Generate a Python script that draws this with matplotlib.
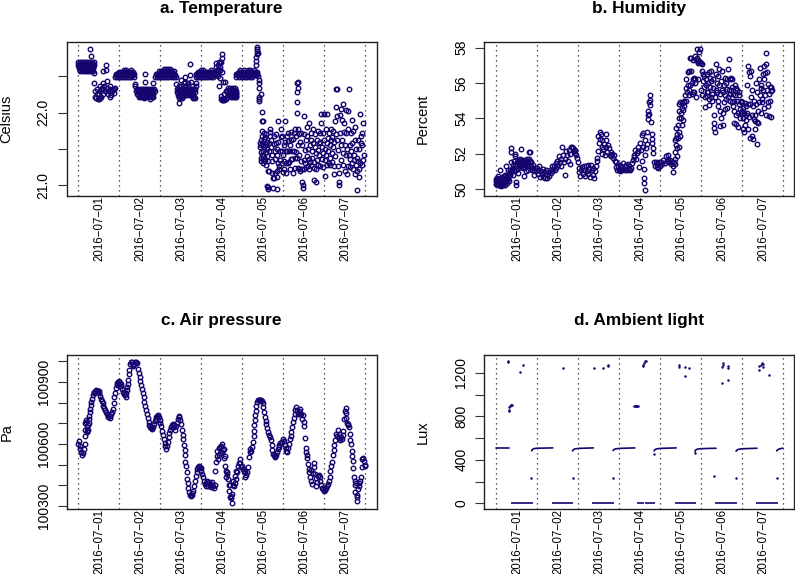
import matplotlib
matplotlib.use("Agg")
import matplotlib.pyplot as plt

plt.rcParams['font.family'] = ['Liberation Sans', 'DejaVu Sans']

W, H = 795, 574
NAVY = '#15056f'

day_labels = ['2016\u221207\u221201', '2016\u221207\u221202', '2016\u221207\u221203', '2016\u221207\u221204',
              '2016\u221207\u221205', '2016\u221207\u221206', '2016\u221207\u221207']
day_label_pos = [0.52, 1.52, 2.52, 3.52, 4.52, 5.52, 6.52]
midnights = [0, 1, 2, 3, 4, 5, 6, 7]

# ---- a. Temperature: rows of the quantised day-time plateau
temp_rows_0 = {22.69: [0.0, .05, .1, .15, .2, .25, .3, .35, .38], 22.65: [0.0, .05, .1, .15, .2, .25, .3, .35, .38],
               22.61: [.02, .07, .12, .17, .22, .27, .32, .37], 22.57: [.06, .11, .16, .21, .26, .31, .36]}
temp_rows_1 = {22.59: [1.12, 1.18, 1.30], 22.56: [1.0, 1.05, 1.1, 1.15, 1.2, 1.25, 1.3, 1.34],
               22.53: [.92, .97, 1.02, 1.07, 1.12, 1.17, 1.22, 1.27, 1.32, 1.37], 22.49: [.9, .95, 1.0, 1.05, 1.1, 1.15, 1.2, 1.25, 1.3, 1.36]}
temp_rows_1b = {22.33: [1.45, 1.5, 1.55, 1.6, 1.65, 1.7, 1.75, 1.8, 1.86], 22.29: [1.42, 1.47, 1.52, 1.57, 1.62, 1.67, 1.72, 1.77, 1.83, 1.88],
                22.25: [1.45, 1.5, 1.55, 1.6, 1.65, 1.7, 1.78, 1.84], 22.21: [1.48, 1.53, 1.6, 1.66, 1.74, 1.8, 1.83]}
temp_rows_2 = {22.60: [2.1, 2.15, 2.2, 2.25], 22.57: [1.98, 2.03, 2.08, 2.13, 2.18, 2.23, 2.28, 2.33],
               22.53: [1.9, 1.95, 2.0, 2.05, 2.1, 2.15, 2.2, 2.25, 2.3, 2.35], 22.49: [1.88, 1.93, 1.98, 2.03, 2.08, 2.13, 2.18, 2.23, 2.28, 2.34, 2.38]}
temp_rows_2b = {22.36: [2.5, 2.6, 2.68, 2.78, 2.88], 22.32: [2.42, 2.47, 2.52, 2.57, 2.62, 2.67, 2.72, 2.77, 2.82, 2.86],
                22.28: [2.42, 2.47, 2.52, 2.57, 2.62, 2.67, 2.72, 2.77, 2.84], 22.24: [2.44, 2.49, 2.54, 2.6, 2.66, 2.72, 2.8],
                22.20: [2.46, 2.5, 2.54, 2.8, 2.84]}
temp_rows_3 = {22.59: [3.0, 3.05, 3.25, 3.38], 22.56: [2.92, 2.97, 3.02, 3.07, 3.12, 3.17, 3.22, 3.27, 3.32, 3.38, 3.42],
               22.53: [2.87, 2.92, 2.97, 3.02, 3.07, 3.12, 3.17, 3.22, 3.27, 3.32, 3.38],
               22.49: [2.88, 2.93, 2.98, 3.03, 3.08, 3.13, 3.18, 3.23, 3.3]}
temp_rows_3b = {22.34: [3.66, 3.7, 3.78, 3.82], 22.30: [3.64, 3.68, 3.73, 3.78, 3.82, 3.86], 22.26: [3.66, 3.71, 3.76, 3.81, 3.85],
                22.22: [3.72, 3.78, 3.83, 3.86], 22.19: [3.48, 3.51, 3.54, 3.57, 3.6], 22.17: [3.5, 3.53, 3.56]}
temp_rows_4 = {22.59: [3.95, 4.05, 4.15, 4.2, 4.3], 22.56: [3.92, 3.97, 4.02, 4.07, 4.12, 4.17, 4.22, 4.27, 4.32, 4.36],
               22.53: [3.86, 3.91, 3.96, 4.01, 4.06, 4.11, 4.16, 4.21, 4.26, 4.31, 4.36], 22.49: [3.86, 3.92, 4.0, 4.06, 4.12, 4.18, 4.24]}
temp_rows_fill_top = {22.67: [.02, .08, .13, .18, .23, .28, .33, .37], 22.63: [.03, .08, .13, .18, .23, .28, .33, .36],
                      22.59: [.04, .09, .14, .19, .24, .29, .34], 22.55: [.98, 1.03, 1.08, 1.13, 1.23, 1.28, 2.0, 2.06, 2.11, 2.16, 2.21, 2.26, 2.31, 2.95, 3.0, 3.05, 3.1, 3.15, 3.2, 3.25, 3.3, 3.35, 3.9, 3.95, 4.0, 4.09, 4.14, 4.19, 4.24, 4.29, 4.34],
                      22.51: [.93, .98, 1.03, 1.08, 1.13, 1.18, 1.23, 1.28, 1.33, 1.92, 1.97, 2.02, 2.07, 2.12, 2.17, 2.22, 2.27, 2.32, 2.37, 2.9, 2.95, 3.0, 3.05, 3.1, 3.15, 3.2, 3.25, 3.3, 3.35, 3.88, 3.93, 3.98, 4.03, 4.08, 4.13, 4.18, 4.23, 4.28, 4.33]}
temp_rows_fill_low = {22.31: [1.46, 1.51, 1.56, 1.61, 1.66, 1.71, 1.76, 1.81, 2.44, 2.49, 2.54, 2.59, 2.64, 2.69, 2.74, 2.79, 3.67, 3.72, 3.77, 3.82],
                      22.27: [1.47, 1.52, 1.57, 1.62, 1.67, 1.72, 1.8, 2.45, 2.5, 2.55, 2.6, 2.65, 2.7, 2.75, 2.8, 3.69, 3.74, 3.79, 3.84],
                      22.23: [1.5, 1.55, 1.63, 1.69, 1.77, 2.47, 2.52, 2.57, 2.78, 3.75, 3.8, 3.85]}
temp_day0_low = [(.30, 22.87), (.31, 22.78), (.40, 22.55), (.40, 22.41), (.54, 22.37), (.60, 22.57), (.68, 22.58), (.68, 22.66),
                 (.70, 22.44), (.62, 22.41), (.79, 22.36), (.87, 22.33), (.42, 22.29), (.46, 22.32), (.58, 22.34), (.66, 22.29),
                 (.74, 22.29), (.83, 22.29), (.42, 22.22), (.48, 22.19), (.53, 22.20), (.57, 22.21), (.62, 22.25), (.77, 22.22),
                 (.87, 22.27), (.50, 22.25), (.70, 22.34), (.79, 22.32), (.54, 22.29), (.61, 22.32), (.89, 22.34), (.81, 22.24),
                 (.45, 22.20), (.51, 22.19), (.46, 22.26), (.73, 22.25), (.85, 22.31), (.64, 22.36), (.55, 22.33)]
temp_day1_out = [(1.40, 22.39), (1.39, 22.36), (1.64, 22.53), (1.64, 22.42), (1.84, 22.41), (1.60, 22.20), (1.76, 22.19)]
temp_day2_out = [(2.45, 22.13), (2.73, 22.67), (2.73, 22.51), (2.62, 22.49), (2.39, 22.39), (2.52, 22.45), (2.58, 22.40),
                 (2.68, 22.40), (2.75, 22.42), (2.87, 22.40), (2.82, 22.22), (2.46, 22.36), (2.6, 22.42)]
temp_day3_out = [(3.36, 22.68), (3.44, 22.70), (3.36, 22.63), (3.42, 22.65), (3.47, 22.68), (3.50, 22.80), (3.50, 22.75), (3.48, 22.70),
                 (3.46, 22.62), (3.46, 22.58), (3.47, 22.58), (3.51, 22.56), (3.45, 22.48), (3.42, 22.50), (3.58, 22.42), (3.53, 22.42),
                 (3.44, 22.37), (3.60, 22.30), (3.57, 22.25), (3.62, 22.22), (3.49, 22.23)]
temp_fall = [(4.37, 22.90), (4.37, 22.84), (4.37, 22.80), (4.35, 22.77), (4.35, 22.71), (4.33, 22.66), (4.39, 22.50),
             (4.41, 22.41), (4.41, 22.34), (4.45, 22.26), (4.41, 22.21), (4.41, 22.155), (4.42, 22.18), (4.48, 22.01),
             (4.51, 21.89), (4.49, 21.89), (4.36, 22.87), (4.38, 22.82), (4.40, 22.45)]
temp_scatter_a = [(4.44, 21.58), (4.44, 21.53), (4.45, 21.46), (4.45, 21.38), (4.46, 21.33), (4.47, 21.62), (4.47, 21.55), (4.48, 21.42),
                  (4.49, 21.75), (4.49, 21.68), (4.50, 21.56), (4.50, 21.47), (4.51, 21.36), (4.51, 21.30), (4.53, 21.72), (4.53, 21.63),
                  (4.54, 21.52), (4.54, 21.40), (4.55, 21.34), (4.56, 21.66), (4.57, 21.57), (4.57, 21.46), (4.58, 21.28), (4.59, 21.70),
                  (4.60, 21.60), (4.60, 21.50), (4.61, 21.40), (4.62, 21.19), (4.60, 20.99), (4.62, 20.97), (4.64, 20.95), (4.66, 21.20),
                  (4.64, 21.33), (4.66, 21.47), (4.66, 21.58), (4.67, 21.68), (4.68, 21.78), (4.69, 21.73), (4.70, 21.62), (4.71, 21.52),
                  (4.72, 21.42), (4.73, 21.34), (4.73, 21.17), (4.75, 21.10), (4.76, 20.96), (4.77, 21.10), (4.78, 21.57), (4.78, 21.68),
                  (4.79, 21.47), (4.80, 21.36), (4.80, 21.17), (4.82, 21.70), (4.83, 21.58), (4.84, 21.50), (4.84, 21.19), (4.84, 20.95),
                  (4.86, 21.12), (4.86, 21.42), (4.87, 21.30), (4.87, 21.88), (4.88, 21.60), (4.90, 21.26), (4.91, 21.22), (4.92, 21.47),
                  (4.93, 21.35), (4.94, 21.66), (4.95, 21.77), (4.96, 21.68), (4.97, 21.47), (4.98, 21.30), (4.99, 21.18), (5.00, 21.42)]
temp_scatter_b = [(5.01, 21.55), (5.02, 21.33), (5.03, 21.22), (5.04, 21.60), (5.05, 21.88), (5.06, 21.47), (5.07, 21.31), (5.08, 21.17),
                  (5.09, 21.68), (5.10, 21.47), (5.11, 21.30), (5.12, 21.61), (5.13, 21.72), (5.14, 21.47), (5.15, 21.32), (5.16, 21.22),
                  (5.17, 21.55), (5.18, 21.36), (5.19, 21.73), (5.20, 21.62), (5.21, 21.47), (5.22, 21.36), (5.23, 21.17), (5.25, 21.63),
                  (5.26, 21.72), (5.27, 21.47), (5.28, 21.38), (5.29, 21.24), (5.30, 21.78), (5.31, 21.68), (5.32, 21.46), (5.33, 21.37),
                  (5.34, 22.40), (5.34, 22.28), (5.34, 22.15), (5.35, 22.34), (5.35, 22.42), (5.33, 22.00), (5.36, 21.77), (5.36, 21.55),
                  (5.37, 21.24), (5.38, 21.70), (5.39, 21.42), (5.40, 21.22), (5.41, 21.60), (5.42, 21.20), (5.43, 21.33), (5.44, 21.72),
                  (5.45, 21.23), (5.46, 21.55), (5.47, 21.05), (5.48, 21.00), (5.49, 20.96), (5.50, 21.35), (5.50, 21.95), (5.51, 21.70),
                  (5.52, 21.22), (5.53, 21.48), (5.54, 21.30), (5.55, 21.62), (5.56, 21.25), (5.57, 21.40), (5.58, 21.80), (5.59, 21.68),
                  (5.60, 21.27), (5.61, 21.50), (5.62, 21.36), (5.63, 21.85), (5.64, 21.22), (5.65, 21.55), (5.66, 21.32), (5.67, 21.72),
                  (5.68, 21.62), (5.69, 21.28), (5.70, 21.47), (5.71, 21.38), (5.72, 21.78), (5.73, 21.58), (5.74, 21.07), (5.75, 21.24),
                  (5.76, 21.32), (5.77, 21.52), (5.78, 21.70), (5.79, 21.45), (5.80, 21.23), (5.81, 21.05), (5.82, 21.62), (5.83, 21.35),
                  (5.84, 21.75), (5.85, 21.48), (5.86, 21.28), (5.87, 21.58), (5.88, 21.42)]
temp_scatter_c = [(5.89, 21.26), (5.90, 21.72), (5.91, 21.60), (5.92, 21.86), (5.93, 21.98), (5.94, 21.52), (5.95, 21.36), (5.96, 21.25),
                  (5.97, 21.72), (5.98, 21.45), (5.99, 21.98), (6.00, 21.62), (6.01, 21.35), (6.02, 21.13), (6.03, 21.50), (6.04, 21.78),
                  (6.05, 21.42), (6.06, 21.58), (6.07, 21.98), (6.08, 21.28), (6.09, 21.65), (6.10, 21.47), (6.11, 21.30), (6.12, 21.72),
                  (6.13, 21.55), (6.14, 21.38), (6.15, 21.28), (6.16, 21.78), (6.17, 21.62), (6.18, 21.45), (6.19, 21.32), (6.20, 21.66),
                  (6.21, 21.75), (6.22, 21.52), (6.23, 21.27), (6.24, 21.15), (6.25, 21.60), (6.26, 21.40), (6.27, 21.89), (6.28, 21.70),
                  (6.29, 22.08), (6.29, 22.32), (6.31, 22.33), (6.31, 21.95), (6.32, 21.62), (6.33, 21.27), (6.34, 21.48), (6.35, 21.17),
                  (6.36, 21.05), (6.37, 21.00), (6.38, 21.72), (6.38, 21.97), (6.40, 21.55), (6.41, 21.35), (6.42, 22.05), (6.43, 21.90),
                  (6.44, 21.62), (6.45, 22.12), (6.46, 21.45), (6.47, 21.28), (6.48, 21.73), (6.49, 21.85), (6.50, 21.55), (6.51, 21.20),
                  (6.52, 22.03), (6.53, 21.42), (6.54, 21.72), (6.55, 21.15), (6.56, 21.50), (6.57, 21.26), (6.58, 22.02), (6.59, 21.78),
                  (6.60, 21.42), (6.61, 22.33), (6.62, 21.36), (6.63, 21.55), (6.64, 21.25)]
temp_scatter_d = [(6.65, 21.72), (6.66, 21.47), (6.67, 21.30), (6.68, 21.90), (6.69, 21.58), (6.70, 21.75), (6.71, 21.22), (6.72, 21.42),
                  (6.73, 21.35), (6.74, 21.62), (6.75, 21.15), (6.76, 21.80), (6.77, 21.50), (6.78, 21.28), (6.79, 21.37), (6.80, 21.20),
                  (6.81, 20.93), (6.82, 21.62), (6.83, 21.33), (6.84, 21.12), (6.85, 21.50), (6.86, 21.22), (6.87, 21.98), (6.88, 21.30),
                  (6.89, 21.58), (6.90, 21.68), (6.91, 21.72), (6.92, 21.28), (6.93, 21.55), (6.94, 21.35), (6.95, 21.85), (6.96, 21.42)]

# ---- b. Humidity
humid_a = [(0.0, 50.45), (0.0, 50.3), (.01, 50.55), (.02, 50.25), (.03, 50.4), (.03, 50.62), (.05, 50.3), (.05, 50.5), (.06, 50.72),
           (.07, 50.38), (.08, 50.2), (.09, 50.55), (.1, 51.05), (.1, 50.4), (.11, 50.25), (.12, 50.6), (.13, 50.18), (.14, 50.4),
           (.15, 50.7), (.16, 50.3), (.17, 50.5), (.18, 50.2), (.19, 50.75), (.2, 50.4), (.21, 50.55), (.22, 50.25), (.23, 50.8),
           (.24, 50.45), (.25, 51.3), (.26, 50.6), (.27, 50.35), (.28, 50.75), (.29, 50.55), (.3, 51.1), (.31, 50.65), (.32, 50.9),
           (.33, 50.45), (.34, 51.05), (.35, 50.8), (.36, 51.5), (.37, 50.95), (.38, 52.3), (.38, 52.1), (.39, 51.15), (.4, 51.0),
           (.41, 50.8), (.42, 51.2), (.43, 51.35), (.44, 51.05), (.45, 51.6), (.46, 51.85), (.47, 51.3), (.48, 52.0), (.49, 51.1),
           (.5, 50.4), (.5, 50.25), (.51, 51.5), (.52, 51.35), (.53, 51.65), (.54, 51.2), (.55, 50.9), (.56, 51.45), (.57, 51.6),
           (.58, 51.3), (.59, 51.7), (.6, 51.45), (.61, 52.25), (.62, 51.25), (.63, 51.6), (.64, 51.4), (.65, 51.65), (.66, 51.2),
           (.67, 51.5), (.68, 51.35), (.69, 51.65), (.7, 50.75), (.71, 51.25), (.72, 51.55), (.73, 51.0), (.74, 51.4), (.75, 51.7),
           (.76, 51.3), (.77, 51.6), (.78, 51.1), (.79, 51.5), (.8, 52.1), (.81, 51.7), (.82, 51.35), (.83, 52.1), (.84, 51.6),
           (.85, 51.3), (.86, 51.55), (.87, 51.2), (.88, 51.05), (.9, 51.35), (.92, 51.1), (.94, 50.8), (.96, 51.2), (.98, 51.0)]
humid_b = [(1.0, 51.2), (1.02, 50.85), (1.04, 51.05), (1.06, 51.3), (1.08, 50.7), (1.1, 51.0), (1.12, 50.85), (1.14, 51.15), (1.16, 50.7),
           (1.18, 50.95), (1.2, 50.6), (1.22, 51.1), (1.24, 50.8), (1.26, 50.65), (1.28, 50.95), (1.3, 50.75), (1.32, 51.1), (1.34, 50.9),
           (1.36, 51.3), (1.38, 51.0), (1.4, 51.15), (1.42, 51.3), (1.44, 51.1), (1.46, 51.45), (1.48, 51.2), (1.5, 51.6), (1.52, 51.35),
           (1.54, 51.85), (1.56, 51.55), (1.58, 51.3), (1.6, 51.7), (1.62, 52.4), (1.64, 51.9), (1.66, 51.5), (1.68, 50.8), (1.7, 51.7),
           (1.72, 52.15), (1.74, 51.95), (1.76, 51.6), (1.78, 52.2), (1.8, 51.4), (1.82, 52.0), (1.84, 52.35), (1.86, 52.4), (1.88, 52.3),
           (1.9, 52.15), (1.92, 52.05), (1.94, 52.2), (1.96, 51.9), (1.98, 51.75), (2.0, 51.5), (2.02, 51.2), (2.04, 50.95), (2.06, 50.75),
           (2.08, 51.05), (2.1, 51.25), (2.12, 50.85), (2.14, 51.3), (2.16, 51.05), (2.18, 50.75), (2.2, 51.3), (2.22, 51.0), (2.24, 51.35),
           (2.26, 50.85), (2.28, 51.15), (2.3, 50.7), (2.32, 51.35), (2.34, 51.05), (2.36, 50.8), (2.38, 51.2), (2.4, 50.6), (2.42, 51.0),
           (2.44, 51.3), (2.46, 51.6), (2.48, 51.75), (2.5, 52.15), (2.5, 53.0), (2.52, 52.6), (2.54, 53.25), (2.54, 52.85), (2.56, 53.1),
           (2.58, 52.4), (2.58, 52.0), (2.6, 52.8), (2.62, 52.25), (2.64, 52.55), (2.66, 51.95), (2.68, 53.1), (2.68, 52.8), (2.7, 52.4),
           (2.72, 52.1), (2.74, 52.5), (2.76, 52.3), (2.78, 51.9), (2.8, 52.1), (2.82, 51.85), (2.84, 52.0), (2.86, 51.75), (2.88, 51.95),
           (2.9, 51.6), (2.92, 51.25), (2.94, 51.5), (2.96, 51.1), (2.98, 51.3)]
humid_c = [(3.0, 51.1), (3.02, 51.35), (3.04, 51.0), (3.06, 51.25), (3.08, 51.05), (3.1, 51.45), (3.12, 51.15), (3.14, 51.3), (3.16, 51.05),
           (3.18, 51.35), (3.2, 51.1), (3.22, 51.4), (3.24, 51.15), (3.26, 51.3), (3.28, 51.05), (3.3, 51.2), (3.32, 51.45), (3.34, 51.65),
           (3.36, 51.8), (3.38, 51.95), (3.4, 52.2), (3.42, 51.7), (3.44, 52.05), (3.46, 52.4), (3.48, 52.15), (3.5, 51.25), (3.52, 52.6),
           (3.54, 52.2), (3.56, 53.05), (3.57, 51.6), (3.58, 52.4), (3.6, 53.15), (3.61, 50.6), (3.61, 50.35), (3.62, 51.15), (3.63, 49.97),
           (3.64, 51.9), (3.65, 52.8), (3.66, 52.3), (3.68, 53.2), (3.68, 52.55), (3.7, 53.95), (3.7, 54.2), (3.72, 54.4), (3.73, 54.95),
           (3.74, 54.25), (3.75, 55.05), (3.76, 55.3), (3.77, 54.75), (3.78, 53.8), (3.8, 53.1), (3.81, 52.6), (3.82, 52.85), (3.83, 52.3),
           (3.84, 52.05), (3.86, 51.55), (3.88, 51.3), (3.9, 51.55), (3.92, 51.25), (3.94, 51.45), (3.96, 51.2), (3.98, 51.5)]
humid_d = [(4.0, 51.3), (4.03, 51.55), (4.06, 51.4), (4.09, 51.65), (4.12, 51.45), (4.15, 51.85), (4.17, 51.6), (4.19, 51.9), (4.21, 51.7),
           (4.23, 51.5), (4.25, 51.65), (4.27, 51.4), (4.29, 51.55), (4.31, 50.98), (4.32, 51.3), (4.34, 51.5), (4.36, 52.1), (4.36, 51.7),
           (4.38, 51.4), (4.38, 52.75), (4.39, 52.9), (4.4, 52.5), (4.4, 53.45), (4.41, 53.1), (4.42, 52.3), (4.43, 51.85), (4.44, 52.9),
           (4.45, 53.6), (4.46, 54.0), (4.46, 54.4), (4.47, 54.8), (4.47, 53.2), (4.48, 52.4), (4.49, 54.9), (4.5, 53.0), (4.51, 54.3),
           (4.52, 54.0), (4.53, 53.6), (4.54, 54.6), (4.55, 54.85), (4.56, 53.9), (4.57, 54.45), (4.58, 55.0), (4.59, 54.7), (4.6, 54.9),
           (4.62, 55.3), (4.63, 55.7), (4.64, 56.2), (4.65, 55.0), (4.66, 55.5), (4.68, 55.9), (4.68, 56.6), (4.7, 55.3), (4.71, 56.7),
           (4.72, 55.6), (4.73, 55.9), (4.74, 57.4), (4.76, 57.4), (4.77, 56.7), (4.78, 55.4), (4.79, 56.0), (4.8, 55.5), (4.81, 56.2),
           (4.82, 57.3), (4.83, 56.3), (4.84, 55.5), (4.85, 56.0), (4.86, 57.55), (4.87, 56.2), (4.88, 55.2), (4.89, 57.3), (4.9, 57.95),
           (4.91, 57.4), (4.92, 56.2), (4.93, 57.15), (4.94, 57.3), (4.95, 57.75), (4.96, 57.2), (4.98, 57.95), (4.99, 57.2)]
humid_e = [(5.0, 57.15), (5.01, 55.6), (5.02, 57.1), (5.03, 56.7), (5.04, 55.3), (5.05, 56.5), (5.06, 56.1), (5.07, 55.75), (5.09, 56.4),
           (5.1, 55.2), (5.11, 54.65), (5.12, 56.2), (5.13, 55.9), (5.14, 55.5), (5.15, 56.5), (5.16, 55.25), (5.17, 56.0), (5.18, 55.5),
           (5.19, 54.75), (5.2, 56.6), (5.21, 55.1), (5.22, 56.3), (5.23, 55.8), (5.24, 55.2), (5.25, 56.7), (5.26, 56.1), (5.27, 55.4),
           (5.28, 55.0), (5.29, 56.2), (5.3, 55.7), (5.31, 54.2), (5.32, 53.75), (5.33, 53.45), (5.34, 53.25), (5.35, 55.2), (5.36, 55.6),
           (5.37, 57.1), (5.38, 56.5), (5.39, 56.0), (5.4, 55.5), (5.41, 55.0), (5.42, 56.4), (5.43, 54.7), (5.44, 55.9), (5.45, 56.8),
           (5.46, 54.4), (5.47, 55.4), (5.48, 53.55), (5.49, 56.1), (5.5, 54.0), (5.51, 55.6), (5.52, 56.7), (5.53, 54.3), (5.54, 53.65),
           (5.55, 55.5), (5.56, 55.9), (5.57, 54.9), (5.58, 55.3), (5.59, 56.3), (5.6, 54.5), (5.61, 55.1), (5.62, 56.0), (5.63, 54.6),
           (5.64, 55.65), (5.65, 56.2), (5.66, 55.2), (5.67, 56.8), (5.68, 55.6), (5.69, 57.35), (5.7, 56.2), (5.71, 55.0), (5.72, 55.4),
           (5.73, 56.3), (5.74, 55.6), (5.75, 54.9), (5.76, 55.8), (5.77, 56.2), (5.78, 55.4), (5.79, 54.7), (5.8, 55.0), (5.81, 54.4),
           (5.82, 53.75), (5.83, 55.9), (5.84, 55.3), (5.85, 54.2), (5.86, 55.7), (5.87, 53.7), (5.88, 55.0), (5.89, 55.6), (5.9, 54.3),
           (5.91, 53.5), (5.92, 55.5), (5.93, 54.8), (5.94, 55.3), (5.95, 54.0), (5.96, 54.5), (5.97, 55.0), (5.98, 54.3), (5.99, 54.9)]
humid_f = [(6.0, 54.4), (6.01, 54.9), (6.02, 54.0), (6.03, 53.4), (6.04, 54.6), (6.05, 53.2), (6.06, 54.3), (6.07, 54.85), (6.08, 53.6),
           (6.09, 54.2), (6.1, 54.7), (6.11, 53.9), (6.12, 55.9), (6.13, 54.3), (6.14, 54.8), (6.15, 53.4), (6.16, 56.95), (6.17, 54.1),
           (6.18, 56.65), (6.19, 56.4), (6.2, 54.8), (6.21, 52.9), (6.22, 56.7), (6.23, 55.2), (6.24, 53.0), (6.25, 54.2), (6.26, 55.6),
           (6.27, 52.85), (6.28, 54.7), (6.29, 53.95), (6.3, 55.0), (6.31, 53.4), (6.32, 54.2), (6.33, 53.85), (6.34, 56.0), (6.35, 54.8),
           (6.36, 52.55), (6.37, 53.8), (6.38, 55.5), (6.39, 54.4), (6.4, 53.75), (6.42, 56.2), (6.43, 54.9), (6.44, 56.85), (6.45, 55.3),
           (6.46, 54.3), (6.47, 55.7), (6.48, 55.9), (6.49, 55.1), (6.5, 54.9), (6.51, 56.5), (6.52, 55.6), (6.53, 54.6), (6.54, 56.2),
           (6.55, 56.95), (6.56, 55.3), (6.57, 56.55), (6.58, 57.7), (6.59, 54.2), (6.6, 57.05), (6.61, 55.6), (6.62, 56.6), (6.63, 54.7),
           (6.64, 55.95), (6.65, 54.95), (6.66, 55.4), (6.67, 54.15), (6.68, 55.75), (6.69, 55.0), (6.7, 55.55), (6.71, 54.1), (6.72, 55.75), (6.73, 55.6)]

# ---- c. Air pressure
pres_a = [(0, 100600), (.02, 100615), (.04, 100590), (.06, 100575), (.08, 100560), (.10, 100547), (.12, 100555), (.14, 100575), (.16, 100600),
          (.17, 100640), (.18, 100670), (.18, 100700), (.19, 100715), (.20, 100705), (.21, 100680), (.22, 100665), (.23, 100660), (.24, 100670),
          (.25, 100690), (.26, 100700), (.27, 100720), (.28, 100735), (.29, 100755), (.30, 100770), (.31, 100790), (.32, 100805), (.34, 100820),
          (.36, 100835), (.38, 100845), (.40, 100850), (.42, 100853), (.44, 100860), (.46, 100858), (.48, 100855), (.50, 100858), (.52, 100845),
          (.54, 100830), (.56, 100820), (.58, 100810), (.60, 100800), (.62, 100785), (.64, 100775), (.66, 100765), (.68, 100755), (.70, 100745),
          (.72, 100738), (.74, 100730), (.77, 100724), (.79, 100735), (.81, 100745), (.83, 100755), (.85, 100770), (.87, 100800), (.88, 100825),
          (.90, 100848), (.92, 100870), (.94, 100885), (.96, 100895), (.98, 100902), (1.0, 100905), (1.02, 100895), (1.04, 100890), (1.06, 100880),
          (1.08, 100865), (1.10, 100850), (1.12, 100840), (1.14, 100835), (1.16, 100829), (1.18, 100845), (1.19, 100860), (1.20, 100875),
          (1.21, 100890), (1.23, 100910), (1.24, 100940), (1.25, 100960), (1.27, 100985), (1.29, 100998), (1.31, 100995), (1.33, 100980),
          (1.35, 100975), (1.37, 100985), (1.39, 100995), (1.42, 100998), (1.44, 100990), (1.46, 100965), (1.48, 100945), (1.50, 100925)]
pres_b = [(1.52, 100905), (1.54, 100885), (1.56, 100865), (1.58, 100845), (1.60, 100825), (1.62, 100805), (1.64, 100785), (1.66, 100765),
          (1.68, 100745), (1.70, 100725), (1.72, 100705), (1.74, 100690), (1.76, 100680), (1.78, 100675), (1.80, 100672), (1.83, 100680),
          (1.85, 100695), (1.87, 100710), (1.89, 100720), (1.91, 100730), (1.93, 100735), (1.95, 100742), (1.97, 100730), (1.99, 100715),
          (2.01, 100700), (2.03, 100685), (2.05, 100665), (2.07, 100645), (2.09, 100625), (2.11, 100605), (2.13, 100590), (2.15, 100575),
          (2.17, 100590), (2.19, 100610), (2.21, 100635), (2.23, 100655), (2.25, 100670), (2.27, 100680), (2.29, 100690), (2.31, 100695),
          (2.33, 100690), (2.35, 100680), (2.37, 100670), (2.39, 100685), (2.41, 100700), (2.43, 100720), (2.45, 100735), (2.47, 100730),
          (2.49, 100715), (2.51, 100695), (2.53, 100670), (2.55, 100645), (2.57, 100625), (2.59, 100595), (2.60, 100570), (2.61, 100545),
          (2.62, 100515), (2.63, 100495), (2.65, 100465), (2.66, 100430), (2.67, 100410), (2.69, 100385), (2.71, 100370), (2.73, 100355),
          (2.75, 100348), (2.77, 100352), (2.79, 100362), (2.81, 100375), (2.83, 100395), (2.85, 100420), (2.87, 100445), (2.89, 100465),
          (2.91, 100480), (2.93, 100490), (2.95, 100492), (2.97, 100490), (2.99, 100482), (3.01, 100470), (3.03, 100455), (3.05, 100440),
          (3.07, 100420), (3.09, 100405), (3.11, 100395), (3.13, 100410), (3.15, 100420), (3.17, 100395), (3.19, 100415), (3.21, 100400),
          (3.23, 100390), (3.25, 100405), (3.27, 100415), (3.29, 100395), (3.31, 100385), (3.33, 100400), (3.34, 100470)]
pres_c = [(3.36, 100515), (3.38, 100540), (3.40, 100565), (3.41, 100525), (3.43, 100580), (3.44, 100545), (3.46, 100585), (3.47, 100555),
          (3.49, 100590), (3.50, 100560), (3.52, 100600), (3.53, 100570), (3.55, 100575), (3.56, 100530), (3.58, 100540), (3.58, 100495),
          (3.60, 100470), (3.60, 100440), (3.62, 100455), (3.64, 100465), (3.66, 100430), (3.67, 100400), (3.68, 100375), (3.70, 100400),
          (3.71, 100345), (3.73, 100340), (3.74, 100350), (3.75, 100315), (3.76, 100360), (3.77, 100400), (3.79, 100420), (3.80, 100395),
          (3.82, 100445), (3.83, 100410), (3.85, 100470), (3.86, 100430), (3.88, 100465), (3.90, 100495), (3.92, 100510), (3.94, 100525),
          (3.96, 100510), (3.98, 100490), (4.00, 100495), (4.02, 100480), (4.04, 100470), (4.06, 100465), (4.08, 100440), (4.10, 100450),
          (4.12, 100465), (4.14, 100490), (4.16, 100535), (4.18, 100560), (4.20, 100575), (4.22, 100565), (4.24, 100585), (4.26, 100610),
          (4.28, 100640), (4.29, 100665), (4.30, 100690), (4.31, 100715), (4.32, 100740), (4.33, 100760), (4.34, 100785), (4.36, 100805),
          (4.38, 100812), (4.40, 100815), (4.42, 100812), (4.44, 100815), (4.46, 100815), (4.48, 100810), (4.50, 100800), (4.52, 100780)]
pres_d = [(4.54, 100755), (4.55, 100730), (4.57, 100710), (4.59, 100695), (4.61, 100675), (4.63, 100660), (4.65, 100645), (4.67, 100635),
          (4.70, 100620), (4.72, 100595), (4.73, 100570), (4.75, 100550), (4.77, 100545), (4.79, 100540), (4.81, 100538), (4.83, 100545),
          (4.85, 100560), (4.87, 100575), (4.89, 100585), (4.91, 100595), (4.93, 100605), (4.95, 100605), (4.97, 100610), (5.0, 100625),
          (5.02, 100615), (5.04, 100595), (5.06, 100580), (5.08, 100565), (5.10, 100560), (5.12, 100580), (5.14, 100600), (5.16, 100625),
          (5.18, 100640), (5.20, 100660), (5.22, 100680), (5.24, 100705), (5.26, 100725), (5.28, 100745), (5.30, 100765), (5.32, 100780),
          (5.34, 100765), (5.36, 100745), (5.38, 100760), (5.40, 100745), (5.42, 100770), (5.44, 100745), (5.46, 100720), (5.48, 100740),
          (5.50, 100705), (5.52, 100685), (5.53, 100630), (5.55, 100580), (5.56, 100560), (5.58, 100545), (5.59, 100530), (5.61, 100505),
          (5.62, 100480), (5.64, 100465), (5.66, 100440), (5.67, 100475), (5.69, 100420), (5.71, 100405), (5.72, 100460), (5.74, 100490),
          (5.75, 100510), (5.77, 100455), (5.79, 100435), (5.81, 100395), (5.83, 100415), (5.85, 100445), (5.87, 100450), (5.89, 100440),
          (5.91, 100420), (5.93, 100400), (5.95, 100385), (5.97, 100382), (5.99, 100375), (6.01, 100378), (6.03, 100380), (6.05, 100385),
          (6.07, 100395), (6.09, 100405), (6.11, 100420), (6.13, 100440), (6.15, 100470), (6.17, 100495), (6.19, 100515), (6.21, 100545)]
pres_e = [(6.23, 100570), (6.25, 100595), (6.27, 100620), (6.29, 100650), (6.31, 100640), (6.33, 100670), (6.35, 100650), (6.37, 100630),
          (6.39, 100620), (6.41, 100635), (6.43, 100625), (6.45, 100645), (6.47, 100665), (6.49, 100720), (6.50, 100760), (6.52, 100775),
          (6.53, 100750), (6.54, 100725), (6.56, 100700), (6.57, 100690), (6.59, 100695), (6.61, 100680), (6.63, 100650), (6.64, 100620),
          (6.66, 100600), (6.67, 100565), (6.68, 100540), (6.70, 100520), (6.71, 100485), (6.72, 100440), (6.74, 100420), (6.75, 100400),
          (6.76, 100370), (6.78, 100410), (6.79, 100345), (6.80, 100325), (6.81, 100355), (6.83, 100380), (6.84, 100410), (6.86, 100395),
          (6.88, 100420), (6.90, 100440), (6.91, 100490), (6.93, 100525), (6.95, 100530), (6.97, 100520), (6.99, 100500), (7.0, 100495)]

# ---- d. Ambient light
light_zero_start = [.38, 1.37, 2.35, 3.45, 3.64, 4.37, 5.35, 6.34]
light_zero_end = [.90, 1.89, 2.89, 3.61, 3.89, 4.89, 5.88, 6.88]
light_day_0 = [(0, 510), (.32, 510)]
light_day_1 = [(.875, 483), (.89, 495), (.93, 503), (1.0, 507), (1.39, 510)]
light_day_2 = [(1.87, 483), (1.89, 493), (1.94, 502), (2.05, 506), (2.38, 510)]
light_day_3 = [(2.86, 485), (2.88, 495), (2.93, 502), (3.05, 506), (3.39, 510)]
light_day_4 = [(3.86, 482), (3.88, 494), (3.93, 502), (4.05, 506), (4.40, 510)]
light_day_5 = [(4.86, 475), (4.87, 490), (4.92, 499), (5.0, 503), (5.37, 507)]
light_day_6 = [(5.86, 480), (5.88, 490), (5.93, 498), (6.0, 502), (6.37, 507)]
light_day_7 = [(6.85, 482), (6.87, 492), (6.92, 502), (7.0, 507)]
light_points = [(.30, 1310), (.30, 1297), (.67, 1270), (.58, 1208), (.36, 905), (.39, 905), (.37, 903), (.33, 889), (.34, 892), (.32, 858), (.315, 849),
                (.87, 235), (1.63, 1248), (1.88, 235), (2.39, 1245), (2.61, 1245), (2.73, 1267), (2.73, 1276), (2.87, 235),
                (3.37, 893), (3.39, 895), (3.41, 895), (3.43, 898), (3.45, 900), (3.47, 900), (3.59, 1267), (3.60, 1277), (3.61, 1288), (3.63, 1310), (3.66, 1313),
                (3.87, 453), (4.47, 1273), (4.47, 1258), (4.62, 1251), (4.70, 1242), (4.62, 1168), (4.87, 465),
                (5.53, 1294), (5.53, 1273), (5.52, 1258), (5.67, 1264), (5.67, 1248), (5.66, 1135), (5.51, 1110), (5.32, 253), (5.86, 235),
                (6.50, 1294), (6.52, 1282), (6.46, 1273), (6.42, 1264), (6.51, 1258), (6.42, 1227), (6.67, 1184), (6.86, 235)]


def rows_to_pairs(rows):
    return [(t, v) for v, times in rows.items() for t in times]


temp_pairs = (rows_to_pairs(temp_rows_0) + rows_to_pairs(temp_rows_1) + rows_to_pairs(temp_rows_1b) + rows_to_pairs(temp_rows_2)
              + rows_to_pairs(temp_rows_2b) + rows_to_pairs(temp_rows_3) + rows_to_pairs(temp_rows_3b) + rows_to_pairs(temp_rows_4)
              + rows_to_pairs(temp_rows_fill_top) + rows_to_pairs(temp_rows_fill_low)
              + temp_day0_low + temp_day1_out + temp_day2_out + temp_day3_out + temp_fall
              + temp_scatter_a + temp_scatter_b + temp_scatter_c + temp_scatter_d)
humid_pairs = humid_a + humid_b + humid_c + humid_d + humid_e + humid_f
pres_pairs = pres_a + pres_b + pres_c + pres_d + pres_e

fig = plt.figure(figsize=(W / 100, H / 100), dpi=100)
XLIM = (-0.28, 7.28)


def make_axes(l, r, t, b):
    ax = fig.add_axes([l / W, 1 - b / H, (r - l) / W, (b - t) / H])
    ax.set_xlim(*XLIM)
    for s in ax.spines.values():
        s.set_linewidth(1.0)
        s.set_color('#222222')
    for d in midnights:
        ax.axvline(d, color='#222222', lw=0.9, ls=(0, (1, 3)), zorder=1)
    ax.set_xticks(day_label_pos)
    ax.set_xticklabels(day_labels, rotation=90, fontsize=8.3, va='top', ha='center')
    ax.tick_params(axis='x', length=0, pad=0)
    ax.tick_params(axis='y', length=6.5, width=0.8, color='#333333', pad=5, labelsize=10)
    return ax


def scatter(ax, pairs):
    ax.plot([p[0] for p in pairs], [p[1] for p in pairs], ls='none', marker='o', ms=3.25, mew=1.0,
            mfc='none', mec=NAVY, zorder=3, clip_on=False)


def finish(ax, title, ylabel, title_y, label_x):
    cx = (ax.get_position().x0 + ax.get_position().x1) / 2
    fig.text(cx, 1 - title_y / H, title, fontsize=12.4, fontweight='bold', ha='center', va='center')
    cy = (ax.get_position().y0 + ax.get_position().y1) / 2
    fig.text(label_x / W, cy, ylabel, fontsize=10.5, rotation=90, ha='center', va='center')


# a
ax = make_axes(66.5, 376.7, 42, 195.7)
ax.set_ylim(20.857, 22.97)
ax.set_yticks([21.0, 21.5, 22.0, 22.5])
ax.set_yticklabels(['21.0', '', '22.0', ''], rotation=90, va='center')
scatter(ax, temp_pairs)
finish(ax, 'a. Temperature', 'Celsius', 9, 6.5)

# b
ax = make_axes(484.3, 794.3, 42, 195.7)
ax.set_ylim(49.62, 58.32)
ax.set_yticks([50, 52, 54, 56, 58])
ax.set_yticklabels(['50', '52', '54', '56', '58'], rotation=90, va='center')
scatter(ax, humid_pairs)
finish(ax, 'b. Humidity', 'Percent', 9, 423)

# c
ax = make_axes(66.5, 376.7, 355.3, 508.7)
ax.set_ylim(100287, 101029)
ax.set_yticks([100300, 100400, 100500, 100600, 100700, 100800, 100900, 101000])
ax.set_yticklabels(['100300', '', '', '100600', '', '', '100900', ''], rotation=90, va='center')
scatter(ax, pres_pairs)
finish(ax, 'c. Air pressure', 'Pa', 321, 6.5)

# d
ax = make_axes(484.3, 794.3, 355.3, 508.7)
ax.set_ylim(-50, 1363)
ax.set_yticks([0, 200, 400, 600, 800, 1000, 1200])
ax.set_yticklabels(['0', '', '400', '', '800', '', '1200'], rotation=90, va='center')
ax.hlines([0] * len(light_zero_start), light_zero_start, light_zero_end, color=NAVY, lw=1.2, zorder=3)
for day in [light_day_0, light_day_1, light_day_2, light_day_3, light_day_4, light_day_5, light_day_6, light_day_7]:
    ax.plot([p[0] for p in day], [p[1] for p in day], color=NAVY, lw=1.2, zorder=3, solid_capstyle='round')
ax.plot([p[0] for p in light_points], [p[1] for p in light_points], ls='none', marker='o', ms=1.8, mew=0, color=NAVY, zorder=3)
finish(ax, 'd. Ambient light', 'Lux', 321, 423)

fig.savefig('out.png', dpi=100)
